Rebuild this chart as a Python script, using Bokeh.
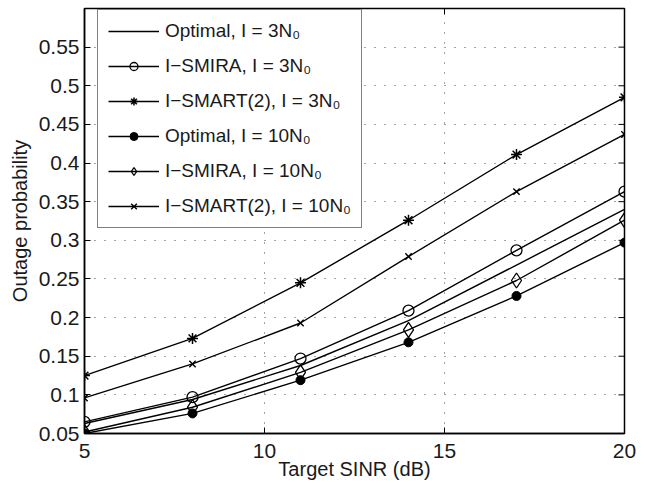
import math
from bokeh.plotting import figure
from bokeh.models import (FixedTicker, CustomJSTickFormatter, Legend,
                          LegendItem, Range1d)
from bokeh.embed import file_html
from bokeh.resources import INLINE

# ---- data ----
x_sinr = [5, 8, 11, 14, 17, 20]
opt_3 = [0.063, 0.094, 0.138, 0.196, 0.268, 0.340]
smira_3 = [0.065, 0.097, 0.147, 0.209, 0.287, 0.363]
smart_3 = [0.125, 0.173, 0.245, 0.326, 0.411, 0.485]
opt_10 = [0.050, 0.076, 0.119, 0.168, 0.228, 0.297]
smira_10 = [0.052, 0.084, 0.129, 0.184, 0.248, 0.326]
smart_10 = [0.096, 0.140, 0.193, 0.279, 0.363, 0.437]

labels = ["Optimal, I = 3N\u2080", "I\u2212SMIRA, I = 3N\u2080", "I\u2212SMART(2), I = 3N\u2080",
          "Optimal, I = 10N\u2080", "I\u2212SMIRA, I = 10N\u2080", "I\u2212SMART(2), I = 10N\u2080"]

x_ticks = [5, 10, 15, 20]
y_ticks = [0.05, 0.1, 0.15, 0.2, 0.25, 0.3, 0.35, 0.4, 0.45, 0.5, 0.55]
x_lim = (5, 20)
y_lim = (0.05, 0.6)

FONT = "Liberation Sans"
TXT = "#1a1a1a"
TICK_FS = "21px"
LABEL_FS = "20px"
LEG_FS = "19px"

p = figure(frame_width=540, frame_height=425,
           min_border_left=84, min_border_right=25, min_border_top=8, min_border_bottom=48,
           x_range=Range1d(*x_lim), y_range=Range1d(*y_lim),
           output_backend="svg", toolbar_location=None)
p.outline_line_color = "black"
p.outline_line_width = 1.5
p.background_fill_color = "white"
p.border_fill_color = "white"

p.xaxis.ticker = FixedTicker(ticks=x_ticks)
p.yaxis.ticker = FixedTicker(ticks=y_ticks)
p.yaxis.formatter = CustomJSTickFormatter(code="return String(Math.round(tick*100)/100);")

for ax in list(p.xaxis) + list(p.yaxis):
    ax.axis_line_color = "black"
    ax.axis_line_width = 1.5
    ax.major_tick_in = 6
    ax.major_tick_out = 0
    ax.minor_tick_in = 0
    ax.minor_tick_out = 0
    ax.major_tick_line_color = "black"
    ax.major_label_text_font = FONT
    ax.major_label_text_font_size = TICK_FS
    ax.major_label_text_color = TXT
    ax.axis_label_text_font = FONT
    ax.axis_label_text_font_size = LABEL_FS
    ax.axis_label_text_font_style = "normal"
    ax.axis_label_text_color = TXT

p.xaxis.axis_label = "Target SINR (dB)"
p.yaxis.axis_label = "Outage probability"
p.xaxis.major_label_standoff = 10
p.xaxis.axis_label_standoff = -3
p.yaxis.major_label_standoff = 5
p.yaxis.axis_label_standoff = 5

p.xgrid.ticker = FixedTicker(ticks=x_ticks)
p.ygrid.ticker = FixedTicker(ticks=y_ticks)
for g in (p.xgrid, p.ygrid):
    g.grid_line_color = "#444444"
    g.grid_line_dash = "1 9"
    g.grid_line_width = 1

# mirrored inward ticks on the top and right edges (MATLAB box style)
p.ray(x=x_ticks, y=[y_lim[1]] * len(x_ticks), length=6, length_units="screen",
      angle=-math.pi / 2, line_color="black", line_width=1)
p.ray(x=[x_lim[1]] * len(y_ticks), y=y_ticks, length=6, length_units="screen",
      angle=math.pi, line_color="black", line_width=1)

LW = 1.4
items = []

l1 = p.line(x_sinr, opt_3, line_color="black", line_width=LW)
items.append(LegendItem(label=labels[0], renderers=[l1]))

l2 = p.line(x_sinr, smira_3, line_color="black", line_width=LW)
m2 = p.scatter(x_sinr, smira_3, marker="circle", size=11, fill_color=None,
               line_color="black", line_width=1.3)
items.append(LegendItem(label=labels[1], renderers=[l2, m2]))

l3 = p.line(x_sinr, smart_3, line_color="black", line_width=LW)
m3 = p.scatter(x_sinr, smart_3, marker="asterisk", size=11, line_color="black", line_width=1.5)
items.append(LegendItem(label=labels[2], renderers=[l3, m3]))

l4 = p.line(x_sinr, opt_10, line_color="black", line_width=LW)
m4 = p.scatter(x_sinr, opt_10, marker="circle", size=9, fill_color="black", line_color="black")
items.append(LegendItem(label=labels[3], renderers=[l4, m4]))

l5 = p.line(x_sinr, smira_10, line_color="black", line_width=LW)
m5 = p.scatter(x_sinr, smira_10, marker="diamond", size=15, fill_color=None,
               line_color="black", line_width=1.3)
items.append(LegendItem(label=labels[4], renderers=[l5, m5]))

l6 = p.line(x_sinr, smart_10, line_color="black", line_width=LW)
m6 = p.scatter(x_sinr, smart_10, marker="x", size=9, line_color="black", line_width=1.4)
items.append(LegendItem(label=labels[5], renderers=[l6, m6]))

legend = Legend(items=items, location=(13, 205))
legend.label_text_font = FONT
legend.label_text_font_size = LEG_FS
legend.label_text_color = TXT
legend.glyph_width = 51
legend.glyph_height = 20
legend.label_height = 20
legend.label_standoff = 6
legend.spacing = 13
legend.padding = 10
legend.margin = 0
legend.border_line_color = "black"
legend.border_line_width = 1.5
legend.background_fill_color = "white"
legend.background_fill_alpha = 1
p.add_layout(legend, "center")

open("out.html", "w").write(file_html(p, INLINE))
